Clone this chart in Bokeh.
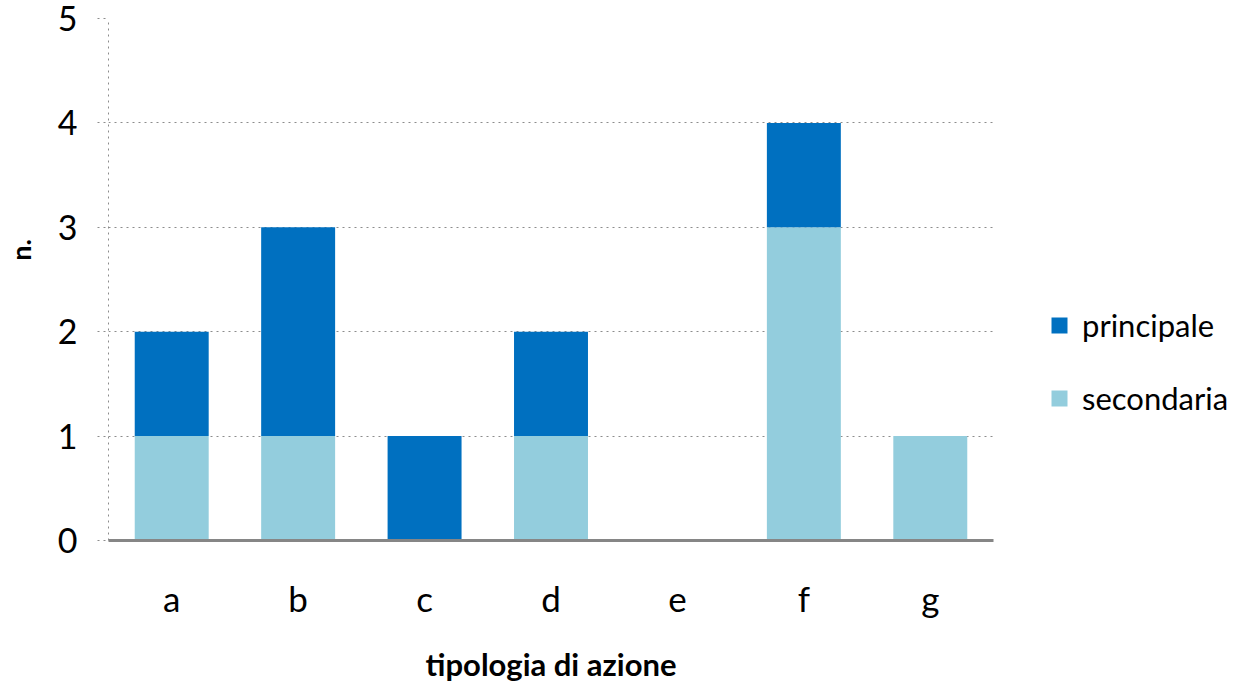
from bokeh.plotting import figure
from bokeh.models import ColumnDataSource, FixedTicker, Legend, LegendItem, Range1d
from bokeh.embed import file_html
from bokeh.resources import INLINE

categories = ["a", "b", "c", "d", "e", "f", "g"]
secondaria = [1, 1, 0, 1, 0, 3, 1]
principale = [1, 2, 1, 1, 0, 1, 0]
series = ["secondaria", "principale"]
colors = ["#93CDDD", "#0070C0"]
y_ticks = [0, 1, 2, 3, 4, 5]

FONT = "Lato"

source = ColumnDataSource(dict(cat=categories, secondaria=secondaria, principale=principale))

p = figure(x_range=categories, y_range=Range1d(0, 5),
           frame_width=885, frame_height=522,
           output_backend="svg", toolbar_location=None,
           min_border_left=108, min_border_right=10, min_border_top=18, min_border_bottom=10)
p.outline_line_color = None
p.background_fill_color = "white"
p.border_fill_color = "white"

renderers = p.vbar_stack(series, x="cat", width=0.585, color=colors, source=source, line_color=None)

# grid
p.xgrid.grid_line_color = None
p.ygrid.grid_line_color = "#8c8c8c"
p.ygrid.grid_line_dash = "dotted"
p.ygrid.grid_line_width = 1
p.ygrid.ticker = FixedTicker(ticks=y_ticks)

# y axis
ya = p.yaxis[0]
ya.ticker = FixedTicker(ticks=y_ticks)
ya.axis_line_color = "#8c8c8c"
ya.axis_line_dash = "dotted"
ya.major_tick_line_color = "#8c8c8c"
ya.major_tick_line_dash = "dotted"
ya.major_tick_out = 11
ya.major_tick_in = 0
ya.minor_tick_line_color = None
ya.major_label_text_font = FONT
ya.major_label_text_font_size = "34px"
ya.major_label_text_color = "black"
ya.major_label_standoff = 20
ya.axis_label = "\u00a0" * 9 + "n."
ya.axis_label_text_font = FONT
ya.axis_label_text_font_style = "bold"
ya.axis_label_text_font_size = "27px"
ya.axis_label_text_color = "black"
ya.axis_label_standoff = 18

# x axis
xa = p.xaxis[0]
xa.axis_line_color = "#868686"
xa.axis_line_width = 3
xa.major_tick_line_color = None
xa.minor_tick_line_color = None
xa.major_label_text_font = FONT
xa.major_label_text_font_size = "35px"
xa.major_label_text_color = "black"
xa.major_label_standoff = 30
xa.axis_label = "tipologia di azione"
xa.axis_label_text_font = FONT
xa.axis_label_text_font_style = "bold"
xa.axis_label_text_font_size = "31px"
xa.axis_label_text_color = "black"
xa.axis_label_standoff = 23

legend = Legend(items=[LegendItem(label="principale", renderers=[renderers[1]]),
                       LegendItem(label="secondaria", renderers=[renderers[0]])],
                location=(56, 123))
legend.border_line_color = None
legend.background_fill_alpha = 0
legend.padding = 0
legend.margin = 0
legend.glyph_width = 20
legend.glyph_height = 20
legend.label_standoff = 13
legend.label_text_font = FONT
legend.label_text_font_size = "31px"
legend.label_text_color = "black"
legend.spacing = 35
p.add_layout(legend, "right")
p.min_border_right = 258

open("out.html", "w").write(file_html(p, INLINE))
